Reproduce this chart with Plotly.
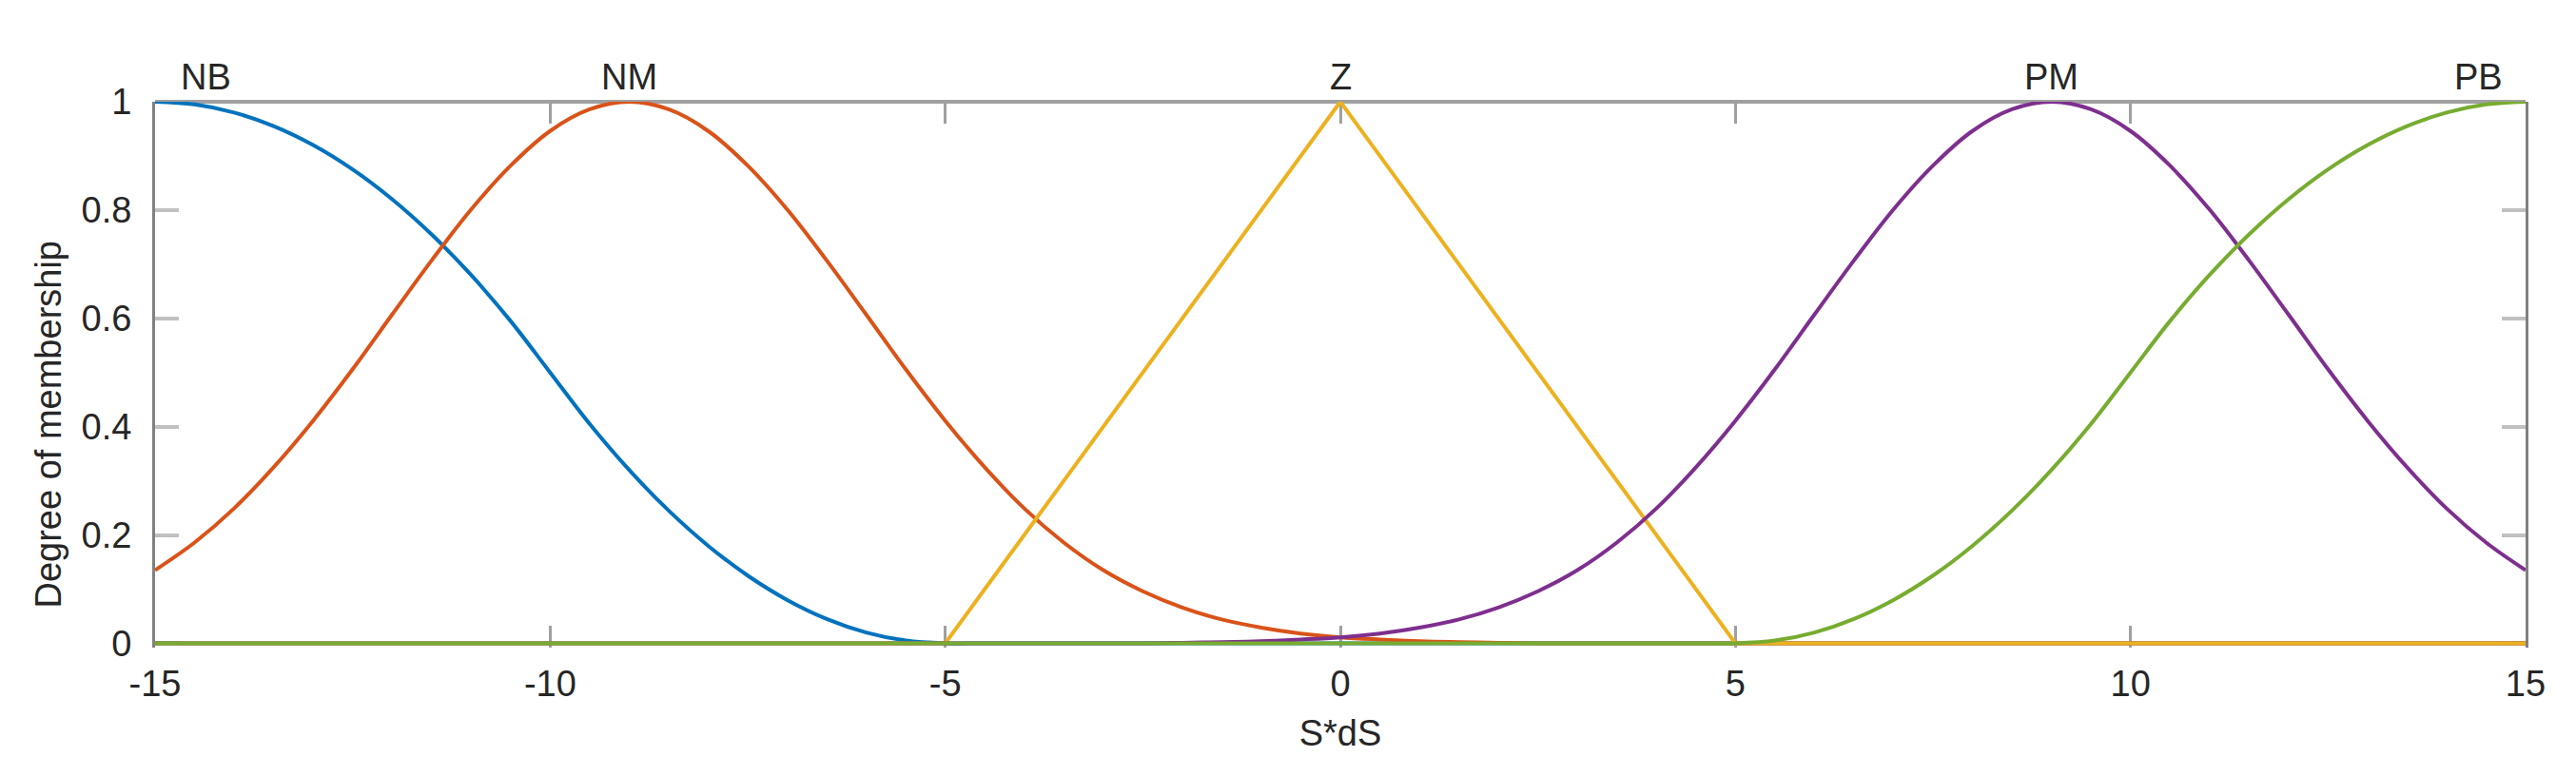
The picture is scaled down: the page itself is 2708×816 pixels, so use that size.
import plotly.graph_objects as go

# sample positions along S*dS
x_vals = [-15, -14.5, -14, -13.5, -13, -12.5, -12, -11.5, -11, -10.5,
          -10, -9.5, -9, -8.5, -8, -7.5, -7, -6.5, -6, -5.5,
          -5, -4.5, -4, -3.5, -3, -2.5, -2, -1.5, -1, -0.5,
          0, 0.5, 1, 1.5, 2, 2.5, 3, 3.5, 4, 4.5,
          5, 5.5, 6, 6.5, 7, 7.5, 8, 8.5, 9, 9.5,
          10, 10.5, 11, 11.5, 12, 12.5, 13, 13.5, 14, 14.5, 15]

nb = [1.0, 0.995, 0.98, 0.955, 0.92, 0.875, 0.82, 0.755, 0.68, 0.595,
      0.5, 0.405, 0.32, 0.245, 0.18, 0.125, 0.08, 0.045, 0.02, 0.005,
      0, 0, 0, 0, 0, 0, 0, 0, 0, 0,
      0, 0, 0, 0, 0, 0, 0, 0, 0, 0,
      0, 0, 0, 0, 0, 0, 0, 0, 0, 0,
      0, 0, 0, 0, 0, 0, 0, 0, 0, 0, 0]

nm = [0.135, 0.186, 0.249, 0.325, 0.411, 0.506, 0.607, 0.707, 0.801, 0.882,
      0.946, 0.986, 1.0, 0.986, 0.946, 0.882, 0.801, 0.707, 0.607, 0.506,
      0.411, 0.325, 0.249, 0.186, 0.135, 0.096, 0.066, 0.044, 0.029, 0.018,
      0.011, 0.007, 0.004, 0.002, 0.001, 0, 0, 0, 0, 0,
      0, 0, 0, 0, 0, 0, 0, 0, 0, 0,
      0, 0, 0, 0, 0, 0, 0, 0, 0, 0, 0]

z = [0, 0, 0, 0, 0, 0, 0, 0, 0, 0,
     0, 0, 0, 0, 0, 0, 0, 0, 0, 0,
     0, 0.1, 0.2, 0.3, 0.4, 0.5, 0.6, 0.7, 0.8, 0.9,
     1.0, 0.9, 0.8, 0.7, 0.6, 0.5, 0.4, 0.3, 0.2, 0.1,
     0, 0, 0, 0, 0, 0, 0, 0, 0, 0,
     0, 0, 0, 0, 0, 0, 0, 0, 0, 0, 0]

pm = [0, 0, 0, 0, 0, 0, 0, 0, 0, 0,
      0, 0, 0, 0, 0, 0, 0, 0, 0, 0,
      0, 0, 0, 0, 0, 0, 0.001, 0.002, 0.004, 0.007,
      0.011, 0.018, 0.029, 0.044, 0.066, 0.096, 0.135, 0.186, 0.249, 0.325,
      0.411, 0.506, 0.607, 0.707, 0.801, 0.882, 0.946, 0.986, 1.0, 0.986,
      0.946, 0.882, 0.801, 0.707, 0.607, 0.506, 0.411, 0.325, 0.249, 0.186, 0.135]

pb = [0, 0, 0, 0, 0, 0, 0, 0, 0, 0,
      0, 0, 0, 0, 0, 0, 0, 0, 0, 0,
      0, 0, 0, 0, 0, 0, 0, 0, 0, 0,
      0, 0, 0, 0, 0, 0, 0, 0, 0, 0,
      0, 0.005, 0.02, 0.045, 0.08, 0.125, 0.18, 0.245, 0.32, 0.405,
      0.5, 0.595, 0.68, 0.755, 0.82, 0.875, 0.92, 0.955, 0.98, 0.995, 1.0]

mf_names = ["NB", "NM", "Z", "PM", "PB"]
mf_values = [nb, nm, z, pm, pb]
mf_shapes = ["spline", "spline", "linear", "spline", "spline"]
label_x = [-14.35, -9, 0, 9, 14.4]

x_tick_vals = [-15, -10, -5, 0, 5, 10, 15]
x_tick_text = ["-15", "-10", "-5", "0", "5", "10", "15"]
y_tick_vals = [0, 0.2, 0.4, 0.6, 0.8, 1]
y_tick_text = ["0", "0.2", "0.4", "0.6", "0.8", "1"]

colors = ["#0072BD", "#D95319", "#EDB120", "#7E2F8E", "#77AC30"]

FONT = "Liberation Sans, Arial, Helvetica, sans-serif"
FS = 38
TXT = "#262626"

fig = go.Figure()
for name, vals, shp, col in zip(mf_names, mf_values, mf_shapes, colors):
    fig.add_trace(go.Scatter(x=x_vals, y=vals, mode="lines", name=name,
                             line=dict(color=col, width=4, shape=shp),
                             showlegend=False, hoverinfo="skip"))

# membership-function names above their peaks
for name, lx in zip(mf_names, label_x):
    fig.add_annotation(x=lx, y=1.046, xref="x", yref="paper", text=name,
                       showarrow=False, font=dict(family=FONT, size=FS, color=TXT),
                       xanchor="center", yanchor="middle")

# y-axis title
fig.add_annotation(x=-0.045, y=0.41, xref="paper", yref="paper",
                   text="Degree of membership", textangle=-90, showarrow=False,
                   font=dict(family=FONT, size=FS, color=TXT),
                   xanchor="center", yanchor="middle")

# top border of the box
fig.add_shape(type="line", xref="paper", yref="paper", x0=0, x1=1, y0=1, y1=1,
              line=dict(color="#a0a0a0", width=4), layer="below")

fig.update_layout(
    width=2708, height=816,
    margin=dict(l=155, r=61, t=99, b=143),
    paper_bgcolor="white", plot_bgcolor="white",
    font=dict(family=FONT, size=FS, color=TXT),
    xaxis=dict(range=[-15, 15], tickvals=x_tick_vals, ticktext=x_tick_text,
               showgrid=False, zeroline=False, showline=False, mirror="ticks",
               ticks="inside", ticklen=23, tickwidth=3, tickcolor="#a0a0a0",
               ticklabelstandoff=12, layer="below traces",
               tickfont=dict(family=FONT, size=FS, color=TXT),
               title=dict(text="S*dS", standoff=18,
                          font=dict(family=FONT, size=FS, color=TXT))),
    yaxis=dict(range=[-0.008, 1.0], tickvals=y_tick_vals, ticktext=y_tick_text,
               showgrid=False, zeroline=False, showline=True, mirror="ticks",
               linecolor="#808080", linewidth=3, layer="below traces",
               ticks="inside", ticklen=25, tickwidth=4, tickcolor="#c0c0c0",
               ticklabelstandoff=14,
               tickfont=dict(family=FONT, size=FS, color=TXT)),
)

fig.write_html("out.html")
